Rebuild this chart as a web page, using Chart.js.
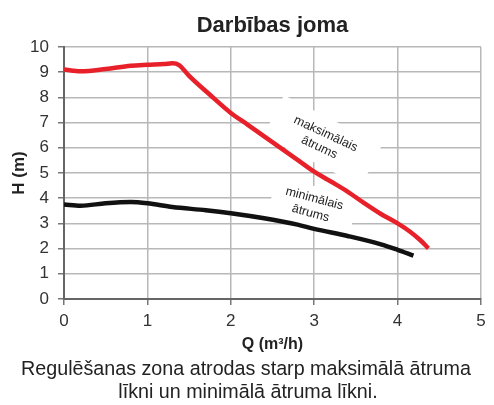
<!DOCTYPE html>
<html lang="lv">
<head>
<meta charset="utf-8">
<title>Darbības joma</title>
<script src="https://cdn.jsdelivr.net/npm/chart.js@4/dist/chart.umd.min.js"></script>
<style>
  html, body { margin: 0; padding: 0; background: #ffffff; }
  #wrap { width: 494px; height: 405px; }
</style>
</head>
<body>
<div id="wrap"><canvas id="chart" width="494" height="405"></canvas></div>
<script>
// Pump curve: flow Q (m³/h) against head H (m)
const maxSpeedQ = [0, 0.2, 0.5, 0.8, 1.0, 1.2, 1.3, 1.38, 1.5, 1.75, 2.0, 2.2, 2.4, 2.8, 3.0, 3.2, 3.4, 3.6, 3.8, 4.0, 4.15, 4.27, 4.37];
const maxSpeedH = [9.1, 9.03, 9.12, 9.25, 9.29, 9.32, 9.35, 9.28, 8.85, 8.1, 7.38, 6.92, 6.45, 5.52, 5.05, 4.66, 4.26, 3.8, 3.37, 3.0, 2.67, 2.34, 2.01];

const minSpeedQ = [0, 0.2, 0.5, 0.8, 1.0, 1.3, 1.7, 2.0, 2.4, 2.8, 3.0, 3.4, 3.8, 4.0, 4.19];
const minSpeedH = [3.75, 3.7, 3.8, 3.85, 3.8, 3.65, 3.52, 3.4, 3.2, 2.95, 2.78, 2.5, 2.17, 1.95, 1.72];

const xTicks = [0, 1, 2, 3, 4, 5];
const yTicks = [0, 1, 2, 3, 4, 5, 6, 7, 8, 9, 10];

const titleText = 'Darbības joma';
const xTitle = 'Q (m³/h)';
const yTitle = 'H (m)';
const captionLines = ['Regulēšanas zona atrodas starp maksimālā ātruma', 'līkni un minimālā ātruma līkni.'];

// Curve name tags, anchored in data units (Q, H)
const curveNotes = [
  { lines: ['maksimālais', 'ātrums'], q: 3.10, h: 6.28, angle: 25, boxW: 110, boxH: 46, boxAngle: 27 },
  { lines: ['minimālais', 'ātrums'], q: 2.98, h: 3.69, angle: 15, boxW: 84, boxH: 40, boxAngle: 10 }
];

const FONT = '"Liberation Sans", Arial, Helvetica, sans-serif';

function toPoints(qs, hs) {
  return qs.map((q, i) => ({ x: q, y: hs[i] }));
}

const notesPlugin = {
  id: 'curveNotes',
  beforeDatasetsDraw(chart) {
    const { ctx, scales } = chart;
    ctx.save();
    curveNotes.forEach(n => {
      const cx = scales.x.getPixelForValue(n.q);
      const cy = scales.y.getPixelForValue(n.h);
      // white tag that masks the grid behind the label
      ctx.save();
      ctx.translate(cx, cy);
      ctx.rotate(n.boxAngle * Math.PI / 180);
      ctx.fillStyle = '#ffffff';
      ctx.fillRect(-n.boxW / 2, -n.boxH / 2, n.boxW, n.boxH);
      ctx.restore();
      // label text
      ctx.save();
      ctx.translate(cx, cy);
      ctx.rotate(n.angle * Math.PI / 180);
      ctx.fillStyle = '#222222';
      ctx.font = '12.5px ' + FONT;
      ctx.textAlign = 'center';
      ctx.textBaseline = 'middle';
      const lh = 15;
      const start = -(n.lines.length - 1) * lh / 2;
      n.lines.forEach((t, i) => ctx.fillText(t, 0, start + i * lh));
      ctx.restore();
    });
    ctx.restore();
  }
};

const captionPlugin = {
  id: 'caption',
  afterDraw(chart) {
    const { ctx } = chart;
    ctx.save();
    ctx.fillStyle = '#222222';
    ctx.font = '19.7px ' + FONT;
    ctx.textAlign = 'center';
    ctx.textBaseline = 'middle';
    ctx.fillText(captionLines[0], 246, 370);
    ctx.fillText(captionLines[1], 248, 393);
    ctx.restore();
  }
};

new Chart(document.getElementById('chart'), {
  type: 'line',
  data: {
    datasets: [
      {
        label: 'maksimālais ātrums',
        data: toPoints(maxSpeedQ, maxSpeedH),
        borderColor: '#e8202a',
        borderWidth: 4.5,
        pointRadius: 0,
        cubicInterpolationMode: 'monotone',
        fill: false
      },
      {
        label: 'minimālais ātrums',
        data: toPoints(minSpeedQ, minSpeedH),
        borderColor: '#111111',
        borderWidth: 4.5,
        pointRadius: 0,
        cubicInterpolationMode: 'monotone',
        fill: false
      }
    ]
  },
  options: {
    responsive: false,
    animation: false,
    layout: { padding: { left: 0, right: 13, top: 0, bottom: 50 } },
    plugins: {
      legend: { display: false },
      tooltip: { enabled: false },
      title: {
        display: true,
        fullSize: false,
        text: titleText,
        color: '#222222',
        font: { family: FONT, size: 22, weight: 'bold' },
        padding: { top: 13, bottom: 7.5 }
      }
    },
    scales: {
      x: {
        type: 'linear',
        min: 0,
        max: 5,
        afterBuildTicks(scale) { scale.ticks = xTicks.map(v => ({ value: v })); },
        afterFit(scale) { scale.height = 56; },
        ticks: { color: '#333333', font: { family: FONT, size: 17 }, padding: 6 },
        grid: { color: '#b8b8b8', lineWidth: 1.5, tickLength: 6, tickColor: '#777777', drawTicks: true },
        border: { color: '#666666', width: 2 },
        title: {
          display: true,
          text: xTitle,
          color: '#222222',
          font: { family: FONT, size: 16, weight: 'bold' },
          padding: { top: 0, bottom: 1 }
        }
      },
      y: {
        type: 'linear',
        min: 0,
        max: 10,
        afterBuildTicks(scale) { scale.ticks = yTicks.map(v => ({ value: v })); },
        afterFit(scale) { scale.width = 64; },
        ticks: { color: '#333333', font: { family: FONT, size: 17 }, padding: 9 },
        grid: { color: '#b8b8b8', lineWidth: 1.5, tickLength: 6, tickColor: '#777777', drawTicks: true },
        border: { color: '#666666', width: 2 },
        title: {
          display: true,
          text: yTitle,
          color: '#222222',
          font: { family: FONT, size: 17, weight: 'bold' },
          padding: { top: 9, bottom: 0 }
        }
      }
    }
  },
  plugins: [notesPlugin, captionPlugin]
});
</script>
</body>
</html>
